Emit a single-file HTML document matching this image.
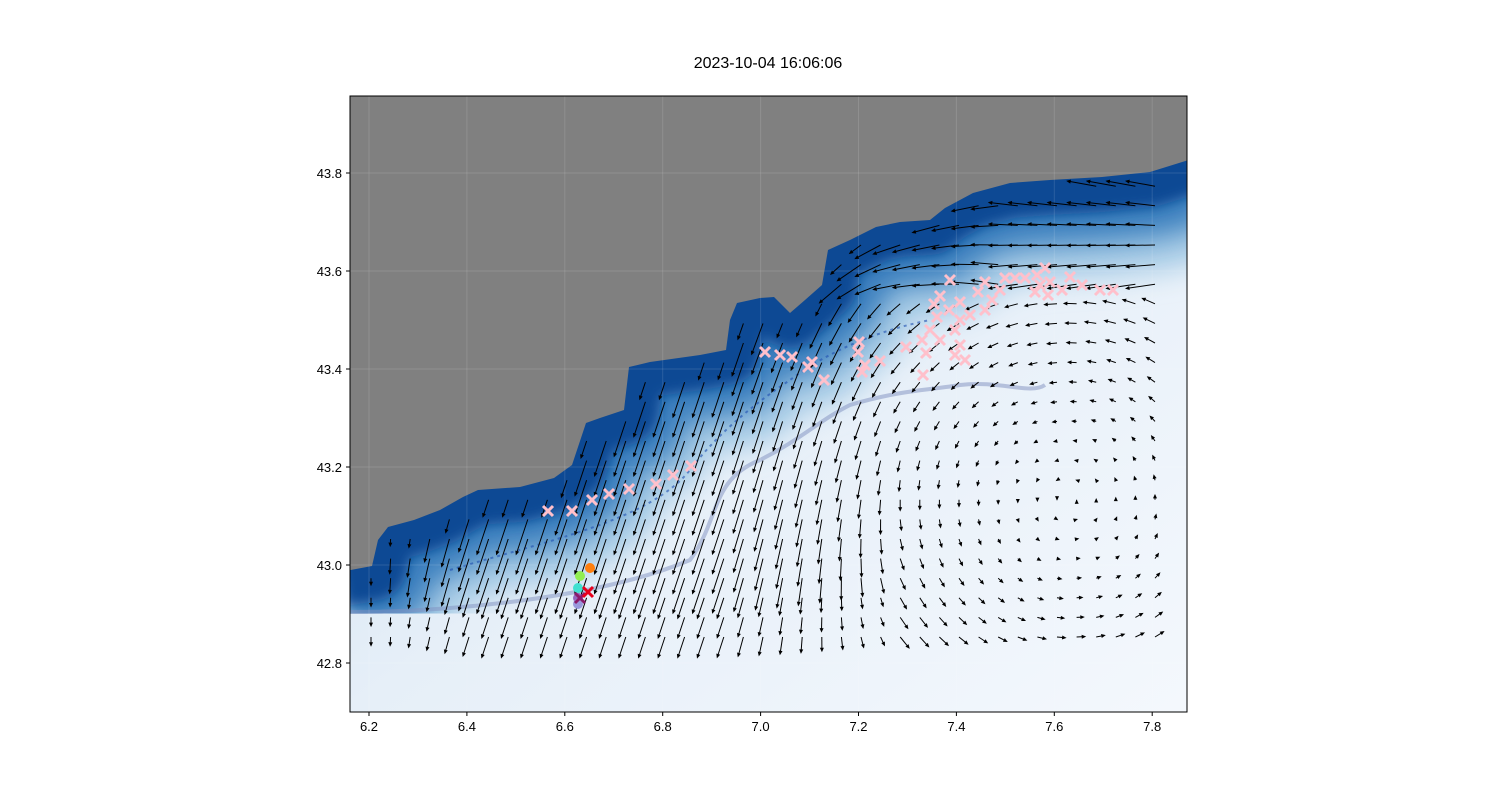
<!DOCTYPE html>
<html><head><meta charset="utf-8"><style>
body{margin:0;background:#fff;}
svg text{font-family:"Liberation Sans",sans-serif;}
</style></head><body>
<svg id="s" width="1500" height="800" xmlns="http://www.w3.org/2000/svg">
<defs>
<clipPath id="c"><rect x="350" y="96" width="837" height="616"/></clipPath>
<linearGradient id="bg" x1="0" y1="0" x2="1" y2="1"><stop offset="0" stop-color="#c9ddef"/><stop offset="0.5" stop-color="#e6eff8"/><stop offset="1" stop-color="#f4f8fd"/></linearGradient>
<filter id="b1"><feGaussianBlur stdDeviation="14"/></filter>
<filter id="b2"><feGaussianBlur stdDeviation="6"/></filter>
</defs>
<text x="768" y="68" font-size="16" text-anchor="middle">2023-10-04 16:06:06</text>
<g clip-path="url(#c)">
<rect x="350" y="96" width="837" height="616" fill="url(#bg)"/>
<g id="band" fill="none" stroke-linejoin="round"></g>
<g id="land"></g>
<g id="grid"></g>
<g id="arr" stroke="#000" stroke-width="1" fill="#000"></g>
<g id="mk"></g>
</g>
<rect x="350" y="96" width="837" height="616" fill="none" stroke="#000" stroke-width="1"/>
<g id="ax" font-size="13"></g>
</svg>
<script>
var NS="http://www.w3.org/2000/svg";
function el(p,t,a){var e=document.createElementNS(NS,t);for(var k in a)e.setAttribute(k,a[k]);p.appendChild(e);return e;}
var coast=[[340,572],[372,566],[378,540],[388,527],[414,520],[440,510],[463,497],[478,490],[520,487],[554,478],[572,465],[586,423],[600,418],[624,410],[629,367],[650,362],[700,355],[726,350],[730,320],[737,303],[760,298],[774,297],[790,313],[805,300],[822,285],[828,250],[850,240],[876,227],[900,222],[930,220],[945,208],[973,193],[1010,183],[1050,180],[1102,177],[1150,172],[1195,158]];
var d="M"+coast.map(function(p){return p.join(",")}).join(" L");
var band=document.getElementById("band");
el(band,"path",{d:d,stroke:"#a8cce6","stroke-width":200,filter:"url(#b1)"});
el(band,"path",{d:d,stroke:"#3a7fbe","stroke-width":130,filter:"url(#b1)"});
el(band,"path",{d:d,stroke:"#0b4a94","stroke-width":70,filter:"url(#b2)"});
el(band,"path",{d:"M350,612 C450,612 600,598 690,560 C720,520 710,480 760,460 C800,440 820,420 850,405 C900,390 930,390 960,385 C1000,380 1030,395 1045,385",stroke:"#8090c0","stroke-width":4,opacity:0.5});
el(band,"path",{d:"M450,570 C550,540 650,520 690,470 C720,430 760,400 790,380 C830,350 880,330 930,320",stroke:"#2050b0","stroke-width":2,"stroke-dasharray":"3 4",opacity:0.6});
el(document.getElementById("land"),"path",{d:d+" L1195,90 L340,90 Z",fill:"#808080"});
var ax=document.getElementById("ax"),gr=document.getElementById("grid");
var xt=[6.2,6.4,6.6,6.8,7.0,7.2,7.4,7.6,7.8];
xt.forEach(function(v,i){var x=369+i*97.9;el(ax,"line",{x1:x,y1:712,x2:x,y2:716,stroke:"#000"});var t=el(ax,"text",{x:x,y:731,"text-anchor":"middle"});t.textContent=v.toFixed(1);
el(gr,"line",{x1:x,y1:96,x2:x,y2:712,stroke:"#fff","stroke-opacity":0.12});});
var yt=[43.8,43.6,43.4,43.2,43.0,42.8];
yt.forEach(function(v,i){var y=173+i*98;el(ax,"line",{x1:346,y1:y,x2:350,y2:y,stroke:"#000"});var t=el(ax,"text",{x:342,y:y+5,"text-anchor":"end"});t.textContent=v.toFixed(1);
el(gr,"line",{x1:350,y1:y,x2:1187,y2:y,stroke:"#fff","stroke-opacity":0.12});});
function coastY(x){for(var i=0;i<coast.length-1;i++){var a=coast[i],b=coast[i+1];if(x>=a[0]&&x<=b[0]){return a[1]+(b[1]-a[1])*(x-a[0])/(b[0]-a[0]);}}return 160;}
var ar=document.getElementById("arr");
for(var x=371;x<1160;x+=19.6){for(var y=637;y>180;y-=19.6){
 if(y<coastY(x)+8)continue;
 var dx=x-1070,dy=y-500;var vx=dy*0.07,vy=-dx*0.07;
 var m=Math.sqrt(vx*vx+vy*vy);if(m>22){vx*=22/m;vy*=22/m;}
 if(y<300){vx=-30;vy=(y-240)*0.1;if(x<1000){vx=-28;vy=-vy+15*(1000-x)/150;}}
 if(x<900){var w=Math.min(1,(900-x)/180);vx=vx*(1-w)+(-12)*w;vy=vy*(1-w)+36*w;}
 if(x<480){var s=Math.max(0.45,1-(480-x)/150);vx=vx*s+ (480-x)*0.05;vy*=s;}
 if(y>590&&x<900){vx*=0.6;vy*=0.6;}
 if(x<880&&y<coastY(x)+25){vx*=0.5;vy*=0.5;}
 var x2=x+vx,y2=y+vy;m=Math.sqrt(vx*vx+vy*vy)||1;var ux=vx/m,uy=vy/m;
 el(ar,"line",{x1:x,y1:y,x2:x2-ux*2.5,y2:y2-uy*2.5});
 el(ar,"polygon",{points:x2+","+y2+" "+(x2-ux*4.5-uy*2)+","+(y2-uy*4.5+ux*2)+" "+(x2-ux*4.5+uy*2)+","+(y2-uy*4.5-ux*2),stroke:"none"});
}}
var pk=[[548,511],[572,511],[592,500],[609,494],[629,489],[656,484],[673,475],[691,466],[765,352],[780,355],[792,357],[812,362],[808,367],[824,380],[859,342],[858,352],[865,365],[862,372],[880,361],[906,347],[922,340],[926,353],[923,375],[934,304],[940,296],[937,317],[949,310],[960,302],[970,315],[960,320],[955,330],[978,292],[985,282],[992,300],[1005,278],[1015,278],[1025,278],[1037,275],[1045,268],[1050,282],[1035,292],[1062,290],[1082,285],[1100,290],[1113,290],[960,345],[955,355],[965,360],[940,340],[950,280],[1000,290],[1040,285],[1070,277],[1048,295],[985,310],[930,330]];
var mk=document.getElementById("mk");
function cross(x,y,c,s){el(mk,"path",{d:"M"+(x-s)+","+(y-s)+"L"+(x+s)+","+(y+s)+"M"+(x-s)+","+(y+s)+"L"+(x+s)+","+(y-s),stroke:c,"stroke-width":3});}
pk.forEach(function(p){cross(p[0],p[1],"#ffc0cb",5);});
[[590,568,"#ff7f0e"],[580,576,"#90ee50"],[578,588,"#40e0d0"],[578,598,"#9467bd"],[578,604,"#9999dd"]].forEach(function(p){el(mk,"circle",{cx:p[0],cy:p[1],r:5,fill:p[2]});});
cross(580,598,"#8b1a6b",5);cross(588,592,"#e8001c",5);
</script>
</body></html>
